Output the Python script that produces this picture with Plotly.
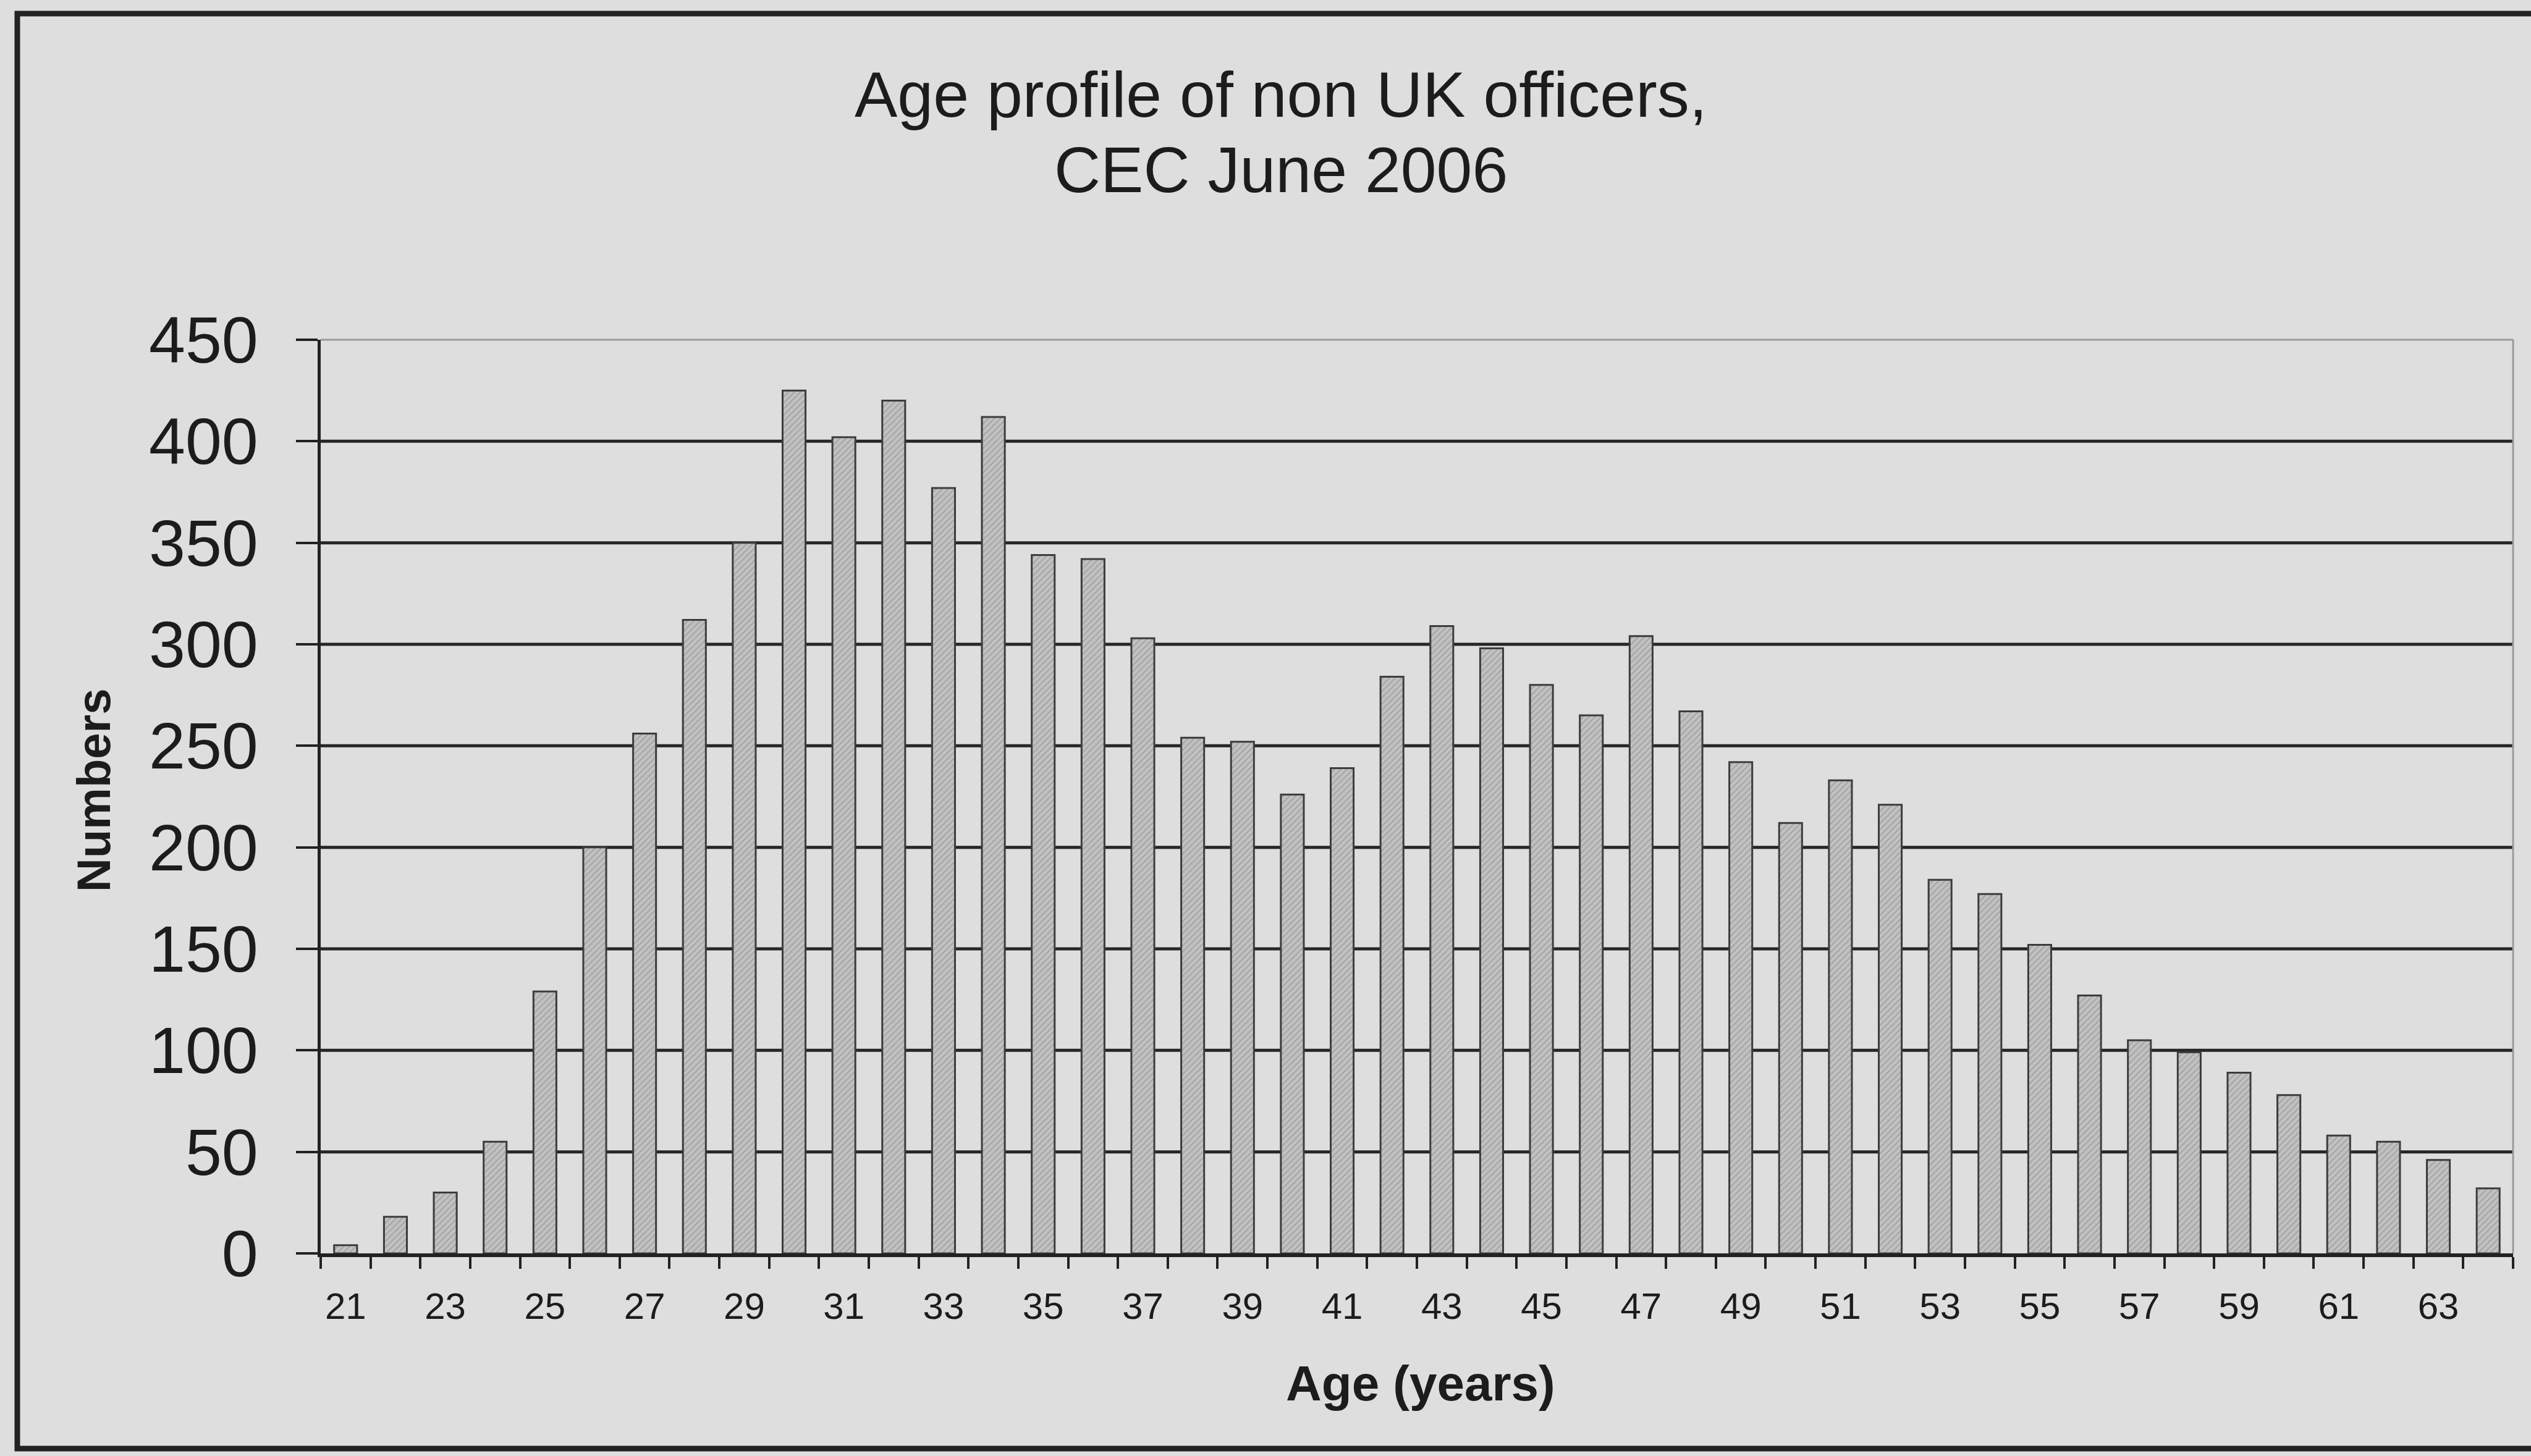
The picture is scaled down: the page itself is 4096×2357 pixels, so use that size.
import plotly.graph_objects as go

# ---- data ----
ages = list(range(21, 65))
numbers = [4, 18, 30, 55, 129, 200, 256, 312, 350, 425,
           402, 420, 377, 412, 344, 342, 303, 254, 252, 226,
           239, 284, 309, 298, 280, 265, 304, 267, 242, 212,
           233, 221, 184, 177, 152, 127, 105, 99, 89, 78,
           58, 55, 46, 32]
x_tick_vals = list(range(21, 64, 2))
x_tick_text = [str(v) for v in x_tick_vals]
y_tick_vals = list(range(0, 451, 50))
title_lines = ["Age profile of non UK officers,", "CEC June 2006"]
x_title = "Age (years)"
y_title = "Numbers"

W, H = 4096, 2357
L, R, T, B = 519, 29, 550, 328
pw, ph = W - L - R, H - T - B

def px(X):
    return (X - L) / pw

def py(Y):
    return (H - B - Y) / ph

BG = "#dedede"
INK = "#222222"

fig = go.Figure()
fig.add_trace(go.Bar(
    x=ages, y=numbers, width=0.46,
    marker=dict(color="#c2c2c2",
                line=dict(color="#3c3c3c", width=3),
                pattern=dict(shape="/", fgcolor="#8c8c8c", size=7, solidity=0.35)),
    showlegend=False,
))

# gridlines (dark) at interior ticks
for v in y_tick_vals[1:-1]:
    fig.add_shape(type="line", xref="paper", yref="y", x0=0, x1=1, y0=v, y1=v,
                  line=dict(color="#262626", width=5), layer="below")
# light plot border top and right
fig.add_shape(type="line", xref="paper", yref="paper", x0=0, x1=1, y0=1, y1=1,
              line=dict(color="#9a9a9a", width=3))
fig.add_shape(type="line", xref="paper", yref="paper", x0=1, x1=1, y0=0, y1=1,
              line=dict(color="#9a9a9a", width=3))

# outer frame (photo box)
fx0, fy0, fy1 = px(28), py(22), py(2345)
fig.add_shape(type="path", xref="paper", yref="paper",
              path=f"M {px(W+20)} {fy0} L {fx0} {fy0} L {fx0} {fy1} L {px(W+20)} {fy1}",
              line=dict(color=INK, width=9))

fig.add_annotation(text=title_lines[0], xref="paper", yref="paper",
                   x=px(2073), y=py(153), xanchor="center", yanchor="middle",
                   showarrow=False, font=dict(family="Liberation Sans, Arial", size=104, color="#1c1c1c"))
fig.add_annotation(text=title_lines[1], xref="paper", yref="paper",
                   x=px(2073), y=py(275), xanchor="center", yanchor="middle",
                   showarrow=False, font=dict(family="Liberation Sans, Arial", size=104, color="#1c1c1c"))
fig.add_annotation(text="<b>" + x_title + "</b>", xref="paper", yref="paper",
                   x=px(2299), y=py(2239), xanchor="center", yanchor="middle",
                   showarrow=False, font=dict(family="Liberation Sans, Arial", size=80, color="#1c1c1c"))
fig.add_annotation(text="<b>" + y_title + "</b>", xref="paper", yref="paper",
                   x=px(151), y=py(1280), xanchor="center", yanchor="middle",
                   textangle=-90, showarrow=False,
                   font=dict(family="Liberation Sans, Arial", size=76, color="#1c1c1c"))

fig.update_xaxes(range=[20.5, 64.5], tickmode="array", tickvals=x_tick_vals, ticktext=x_tick_text,
                 ticks="", showgrid=False, zeroline=False,
                 showline=True, linecolor=INK, linewidth=6,
                 ticklabelstandoff=28,
                 tickfont=dict(family="Liberation Sans Narrow, Arial Narrow, Liberation Sans", size=60, color="#1c1c1c"),
                 minor=dict(tickmode="linear", tick0=20.5, dtick=1, ticks="outside",
                            ticklen=19, tickwidth=4, tickcolor=INK, showgrid=False))
fig.update_yaxes(range=[0, 450], tickmode="array", tickvals=y_tick_vals,
                 ticks="outside", ticklen=35, tickwidth=4, tickcolor=INK,
                 showgrid=False, zeroline=False,
                 showline=True, linecolor=INK, linewidth=5,
                 ticklabelstandoff=40,
                 tickfont=dict(family="Liberation Sans, Arial", size=106, color="#1c1c1c"))

fig.update_layout(width=W, height=H, margin=dict(l=L, r=R, t=T, b=B, autoexpand=False),
                  paper_bgcolor=BG, plot_bgcolor=BG, bargap=0.54)

fig.write_html("out.html")
